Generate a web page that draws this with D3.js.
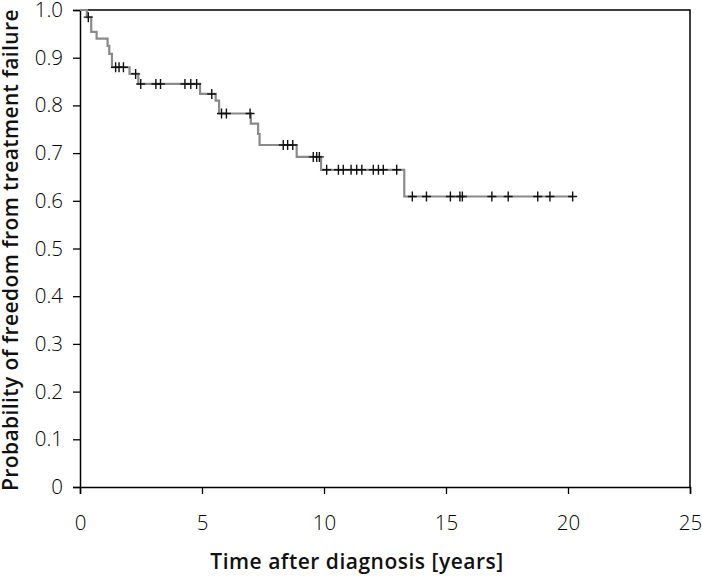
<!DOCTYPE html>
<html>
<head>
<meta charset="utf-8">
<script src="https://cdn.jsdelivr.net/npm/d3@7"></script>
<style>
  body { margin: 0; background: #fff; }
  .tick text { font-family: "Open Sans", sans-serif; font-weight: 300; font-size: 20.5px; fill: #000; }
  .title { font-family: "Open Sans", sans-serif; font-weight: 600; font-size: 21px; fill: #111; }
</style>
</head>
<body>
<div class="km"></div>
<script>
var svgWidth = 702;
var svgHeight = 579;

var margin = { top: 10, right: 12, bottom: 92, left: 80 };
var width = svgWidth - margin.left - margin.right;
var height = svgHeight - margin.top - margin.bottom;

// step changes of the survival estimate (time in years, probability after the step)
var stepTimes = [0, 0.28, 0.46, 0.68, 1.13, 1.2, 1.31, 2.03, 2.39, 4.92, 5.56, 5.7, 7.0, 7.3, 7.36, 8.88, 9.88, 13.29];
var stepValues = [1.0, 0.985, 0.954, 0.94, 0.925, 0.908, 0.88, 0.866, 0.845, 0.824, 0.81, 0.783, 0.762, 0.74, 0.717, 0.692, 0.665, 0.609];
var lastTime = 20.19;

// censored observations (years)
var censorTimes = [0.34, 1.46, 1.6, 1.78, 2.28, 2.49, 3.11, 3.3, 4.3, 4.54, 4.78, 5.4,
  5.8, 6.0, 6.97, 8.33, 8.51, 8.72, 9.56, 9.7, 9.81,
  10.11, 10.59, 10.79, 11.11, 11.34, 11.55, 12.02, 12.23, 12.43, 12.98,
  13.62, 14.2, 15.18, 15.57, 15.67, 16.88, 17.55, 18.76, 19.26, 20.19];

var xTicks = [0, 5, 10, 15, 20, 25];
var yTicks = [0, 0.1, 0.2, 0.3, 0.4, 0.5, 0.6, 0.7, 0.8, 0.9, 1.0];

var svg = d3.select(".km")
  .append("svg")
  .attr("width", svgWidth)
  .attr("height", svgHeight);

var chartGroup = svg.append("g")
  .attr("transform", `translate(${margin.left}, ${margin.top})`);

var x = d3.scaleLinear().domain([0, 25]).range([0, width]);
var y = d3.scaleLinear().domain([0, 1]).range([height, 0]);

// value of the curve at time t
function survivalAt(t) {
  var i = d3.bisectRight(stepTimes, t) - 1;
  return stepValues[Math.max(i, 0)];
}

// frame (top and right)
chartGroup.append("path")
  .attr("d", `M0,0H${width}V${height}`)
  .attr("fill", "none")
  .attr("stroke", "#000")
  .attr("stroke-width", 1.5);

var bottomAxis = d3.axisBottom(x)
  .tickValues(xTicks)
  .tickSize(7)
  .tickPadding(21)
  .tickFormat(d3.format("d"));

var leftAxis = d3.axisLeft(y)
  .tickValues(yTicks)
  .tickSize(7)
  .tickPadding(10)
  .tickFormat(d => d === 0 ? "0" : d.toFixed(1));

var xAxis = chartGroup.append("g")
  .attr("transform", `translate(0, ${height})`)
  .call(bottomAxis);

var yAxis = chartGroup.append("g")
  .call(leftAxis);

[xAxis, yAxis].forEach(function (ax) {
  ax.select(".domain").attr("stroke", "#000").attr("stroke-width", 1.5);
  ax.selectAll(".tick line").attr("stroke", "#000").attr("stroke-width", 1.3);
  ax.selectAll("text").attr("font-family", null).attr("font-size", null);
});

// curve
var curvePoints = stepTimes.map((t, i) => [t, stepValues[i]]);
curvePoints.push([lastTime, survivalAt(lastTime)]);

var line = d3.line()
  .x(d => x(d[0]))
  .y(d => y(d[1]))
  .curve(d3.curveStepAfter);

chartGroup.append("path")
  .datum(curvePoints)
  .attr("d", line)
  .attr("fill", "none")
  .attr("stroke", "#8a8a8a")
  .attr("stroke-width", 2.2);

// censor marks
var marks = chartGroup.selectAll("g.censor")
  .data(censorTimes)
  .enter()
  .append("path")
  .attr("class", "censor")
  .attr("d", function (t) {
    var cx = x(t), cy = y(survivalAt(t));
    return `M${cx - 4.5},${cy}H${cx + 4.5}M${cx},${cy - 5}V${cy + 5}`;
  })
  .attr("stroke", "#111")
  .attr("stroke-width", 1.4);

// axis titles
svg.append("text")
  .attr("class", "title")
  .attr("x", 357)
  .attr("y", 569)
  .attr("text-anchor", "middle")
  .attr("letter-spacing", "0.5px")
  .text("Time after diagnosis [years]");

svg.append("text")
  .attr("class", "title")
  .attr("transform", "rotate(-90)")
  .attr("x", -250)
  .attr("y", 18)
  .attr("text-anchor", "middle")
  .attr("letter-spacing", "0.4px")
  .text("Probability of freedom from treatment failure");
</script>
</body>
</html>
